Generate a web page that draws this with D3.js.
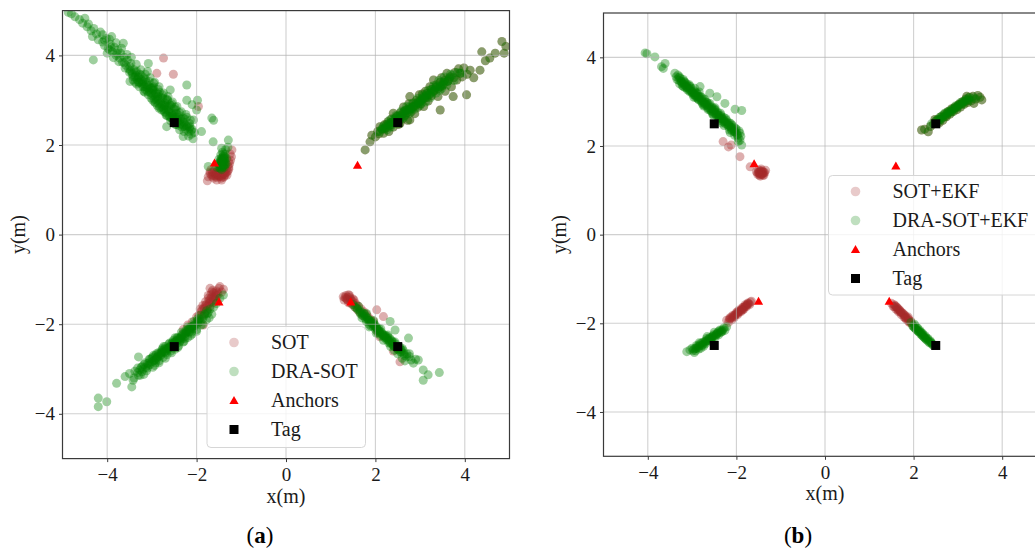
<!DOCTYPE html>
<html><head><meta charset="utf-8">
<script src="https://cdn.jsdelivr.net/npm/d3@7"></script>
<style>body{margin:0;background:#fff}svg{display:block}</style>
</head><body>
<svg id="c" width="1035" height="548"></svg>
<script>
// ---------- tick values ----------
const tickValues = [-4, -2, 0, 2, 4];

// ---------- fixed markers (same in both panels) ----------
const anchors = [[-1.6, 1.6], [1.6, 1.55], [-1.5, -1.5], [1.45, -1.5]];
const tags = [[-2.5, 2.5], [2.5, 2.5], [-2.5, -2.5], [2.5, -2.5]];

// ---------- panel (a) ----------
const aDraUL = [[-4.87,4.96],[-4.80,4.93],[-4.72,4.86],[-4.62,4.80],[-4.55,4.72],[-4.50,4.83],[-4.45,4.64],[-4.42,4.70],[-4.36,4.55],[-4.33,4.42],[-4.30,4.60],[-4.24,4.48],[-4.20,4.35],[-4.15,4.52],[-4.10,4.30],[-4.31,3.90],[-4.06,4.22],[-4.02,4.38],[-3.98,4.15],[-3.93,4.25],[-3.90,4.42],[-3.88,4.08],[-3.84,4.18],[-3.80,4.00],[-3.76,4.12],[-3.72,3.94],[-3.70,4.05],[-3.66,3.85],[-3.64,4.27],[-3.62,3.96],[-3.58,3.78],[-3.55,3.90],[-3.52,3.70],[-3.49,3.75],[-3.47,3.82],[-3.44,3.62],[-3.42,3.45],[-3.40,3.68],[-3.36,3.55],[-3.34,3.64],[-3.31,3.50],[-3.29,3.40],[-3.27,3.58],[-3.24,3.46],[-3.22,3.36],[-3.20,3.30],[-3.18,3.50],[-3.15,3.24],[-3.13,3.40],[-3.10,3.64],[-3.08,3.82],[-3.08,3.32],[-3.05,3.18],[-3.03,3.28],[-3.00,3.10],[-2.98,3.22],[-2.96,3.38],[-2.94,3.02],[-2.92,3.14],[-2.89,3.00],[-2.87,3.08],[-2.85,2.92],[-2.83,3.18],[-2.80,2.98],[-2.78,2.86],[-2.76,3.05],[-2.73,2.82],[-2.71,2.94],[-2.69,2.72],[-2.67,2.85],[-2.67,2.41],[-2.65,3.00],[-2.62,2.78],[-2.60,2.64],[-2.59,3.23],[-2.57,2.88],[-2.55,2.70],[-2.53,2.58],[-2.50,2.80],[-2.48,2.62],[-2.45,2.71],[-2.43,2.52],[-2.40,2.66],[-2.37,2.48],[-2.35,2.58],[-2.33,2.40],[-2.30,2.19],[-2.28,2.50],[-2.25,2.36],[-2.22,2.62],[-2.20,2.42],[-2.18,2.30],[-2.15,2.41],[-2.12,2.24],[-2.10,2.35],[-2.07,2.56],[-2.05,2.28],
[-2.22,3.34],[-2.22,3.00],[-2.00,2.78],[-1.98,3.00],[-2.10,2.90],[-1.89,2.30],[-1.66,2.60],[-1.62,2.55],[-1.63,2.07],[-1.29,2.11],[-1.44,1.93],[-1.74,1.52],[-3.94,4.12],[-3.49,3.42],[-2.97,3.23]];
const aDraULcore = [[-3.38,3.52],[-3.33,3.46],[-3.26,3.40],[-3.21,3.42],[-3.16,3.30],[-3.11,3.28],[-3.06,3.24],[-3.01,3.16],[-2.96,3.12],[-2.91,3.06],[-2.86,3.02],[-2.81,2.94],[-2.76,2.90],[-2.72,2.88],[-2.68,2.80],[-2.63,2.74],[-2.58,2.72],[-2.54,2.66],[-2.49,2.60],[-2.44,2.58],[-2.39,2.54],[-2.34,2.46],[-2.29,2.42],[-2.24,2.44],[-3.02,3.05],[-2.92,2.94],[-2.84,2.82],[-2.74,2.78],[-2.66,2.66],[-2.56,2.60],[-2.46,2.46],
[-4.10,4.46],[-4.00,4.05],[-3.95,4.36],[-3.86,3.95],[-3.80,4.28],[-3.74,3.86],[-3.68,4.16],[-3.60,3.72],[-3.56,4.02],[-3.50,3.62],[-3.46,3.96],[-3.38,3.40],[-3.35,3.80],[-3.28,3.30],[-3.25,3.68],[-3.18,3.20],[-3.15,3.58],[-3.08,3.12],[-3.04,3.50],[-2.98,3.00],[-2.94,3.40],[-2.88,2.88],[-2.84,3.30],[-2.78,2.78],[-2.74,3.16],[-2.68,2.66],[-2.64,3.08],[-2.58,2.54],[-2.54,2.96],[-2.48,2.46],[-2.44,2.86],[-2.38,2.34],[-2.34,2.74],[-2.28,2.30],[-2.24,2.68],[-2.18,2.20],[-2.14,2.56],[-2.08,2.14],[-3.44,3.58],[-3.30,3.52],[-3.12,3.34],[-2.98,3.28],[-2.86,3.14],[-2.70,3.02],[-2.60,2.90],[-2.46,2.78],[-2.30,2.60],[-2.16,2.38],[-3.62,3.84],[-3.78,4.04],[-3.92,4.18],[-4.06,4.34],
[-3.48,3.66],[-3.42,3.52],[-3.36,3.62],[-3.30,3.40],[-3.24,3.56],[-3.20,3.38],[-3.14,3.46],[-3.10,3.20],[-3.06,3.42],[-3.00,3.26],[-2.96,3.30],[-2.90,3.16],[-2.86,3.24],[-2.80,3.06],[-2.76,3.12],[-2.70,2.90],[-2.66,3.02],[-2.62,2.86],[-2.56,2.92],[-2.52,2.70],[-2.48,2.84],[-2.42,2.62],[-2.38,2.72],[-2.32,2.52],[-2.26,2.58],[-2.22,2.40],[-2.16,2.48],[-2.12,2.32],[-3.16,3.18],[-2.94,2.96],[-2.72,2.74],[-2.50,2.52],[-3.34,3.36],[-2.82,2.84],[-2.60,2.62],[-2.40,2.44]];
const aDraBlob = [[-1.50,1.50],[-1.46,1.55],[-1.42,1.60],[-1.38,1.66],[-1.45,1.70],[-1.40,1.75],[-1.36,1.80],[-1.48,1.62],[-1.52,1.58],[-1.44,1.45],[-1.38,1.50],[-1.34,1.58],[-1.42,1.84],[-1.46,1.78],[-1.33,1.70],[-1.50,1.68],[-1.41,1.52],[-1.47,1.48],[-1.36,1.62],[-1.44,1.66],[-1.40,1.70],[-1.48,1.56],[-1.43,1.58],[-1.39,1.56],[-1.45,1.62],[-1.35,1.90],[-1.30,1.95],[-1.55,1.50],[-1.42,1.64],[-1.37,1.74],[-1.44,1.54],[-1.40,1.62],[-1.46,1.66],[-1.38,1.70],[-1.42,1.72],[-1.48,1.52],[-1.36,1.56],[-1.43,1.50],[-1.40,1.80],[-1.46,1.60]];
const aSotUL = [[-1.70,1.36],[-1.66,1.30],[-1.62,1.26],[-1.58,1.34],[-1.55,1.28],[-1.52,1.36],[-1.48,1.30],[-1.45,1.26],[-1.42,1.34],[-1.38,1.30],[-1.35,1.38],[-1.32,1.33],[-1.30,1.42],[-1.28,1.50],[-1.26,1.58],[-1.24,1.66],[-1.22,1.74],[-1.25,1.80],[-1.64,1.40],[-1.60,1.44],[-1.56,1.40],[-1.68,1.45],[-1.50,1.42],[-1.46,1.38],[-1.40,1.40],[-1.34,1.46],[-1.30,1.55],[-1.28,1.63],[-1.74,1.29],[-1.76,1.20],[-1.55,1.22],[-1.44,1.22],[-1.62,1.32],[-1.53,1.32],[-1.40,1.28],[-1.21,1.89],
[-1.66,1.34],[-1.58,1.30],[-1.50,1.30],[-1.44,1.30],[-1.36,1.34],[-1.32,1.40],[-1.28,1.46],[-1.60,1.38],[-1.48,1.34],[-1.54,1.36],[-1.70,1.40],[-1.38,1.36],
[-2.74,3.94],[-2.89,3.60],[-2.52,3.58],[-1.96,2.86]];
const aBothUR = [[1.77,1.89],[1.88,2.07],[1.92,2.22],[2.00,2.18],[2.05,2.30],[2.10,2.41],[2.08,2.25],[2.15,2.35],[2.18,2.26],[2.20,2.45],[2.24,2.38],[2.28,2.52],[2.30,2.30],[2.33,2.44],[2.36,2.58],[2.40,2.71],[2.40,2.40],[2.44,2.50],[2.48,2.64],[2.52,2.46],[2.55,2.48],[2.56,2.72],[2.60,2.58],[2.63,2.85],[2.66,2.66],[2.70,2.78],[2.72,2.55],[2.75,2.92],[2.77,2.56],[2.77,3.08],[2.80,2.74],[2.84,2.86],[2.88,2.70],[2.92,3.00],[2.95,2.84],[2.98,3.12],[3.02,2.92],[3.05,3.05],[3.08,2.86],[3.12,3.20],[3.15,3.15],[3.18,2.98],[3.22,3.30],[3.25,3.10],[3.30,3.45],[3.32,3.22],[3.36,3.34],[3.40,3.08],[3.45,3.30],[3.45,2.78],[3.48,3.50],[3.52,3.36],[3.56,3.20],[3.60,3.60],[3.62,3.42],[3.67,3.52],[3.70,3.30],[3.74,3.08],[3.78,3.62],[3.82,3.45],[3.86,3.70],[3.89,3.60],[3.94,3.52],[3.98,3.72],[4.04,3.12],[4.05,3.58],[4.12,3.67],[4.20,3.50],[4.34,3.67],[4.38,4.08],[4.46,3.88],[4.56,3.94],[4.68,4.05],[4.83,4.31],[4.88,4.05],[4.92,4.20],
[2.20,2.36],[2.30,2.44],[2.40,2.52],[2.50,2.58],[2.60,2.68],[2.70,2.72],[2.80,2.82],[2.90,2.88],[3.00,2.98],[3.10,3.04],[3.20,3.12],[3.30,3.20],[3.40,3.26],[3.50,3.32],[2.25,2.46],[2.35,2.50],[2.45,2.60],[2.55,2.62],[2.65,2.76],[2.75,2.80],[2.85,2.94],[2.95,2.96],[3.05,3.14],[3.15,3.06],[3.25,3.24],[3.35,3.28],[3.45,3.40],[3.55,3.44],[3.65,3.48],[3.75,3.50]];
const aDraURcore = [[2.10,2.30],[2.18,2.42],[2.26,2.34],[2.32,2.56],[2.38,2.46],[2.46,2.66],[2.52,2.54],[2.58,2.76],[2.64,2.62],[2.70,2.86],[2.76,2.70],[2.82,2.92],[2.88,2.80],[2.94,3.04],[3.00,2.88],[3.06,3.10],[3.12,2.96],[3.18,3.22],[3.24,3.06],[3.30,3.32],[3.36,3.16],[3.42,3.44],[3.48,3.26],[3.54,3.52],[3.60,3.34],[3.68,3.58],[3.76,3.44],[3.84,3.62],[3.92,3.60],[2.36,2.50],[2.56,2.66],[2.76,2.84],[2.96,2.94],[3.16,3.14],[3.36,3.30],[3.56,3.40],[2.46,2.56],[2.66,2.72],[2.86,2.86],[3.06,3.02],[3.26,3.18],[3.46,3.34],
[2.14,2.36],[2.22,2.40],[2.30,2.48],[2.42,2.58],[2.50,2.64],[2.58,2.62],[2.68,2.78],[2.78,2.78],[2.90,2.92],[3.02,2.98],[3.14,3.10],[3.28,3.24],[3.40,3.30],[3.52,3.40],[3.64,3.44],[3.72,3.56],[2.34,2.40],[2.54,2.56],[2.74,2.74],[2.98,2.92],[3.22,3.14],[3.44,3.22],[2.62,2.72],[2.84,2.82],[3.08,3.06]];
const aDraLL = [[-4.20,-3.65],[-4.01,-3.73],[-4.20,-3.84],[-3.79,-3.32],[-3.60,-3.17],[-3.45,-3.40],[-3.42,-3.25],[-3.50,-3.10],[-3.38,-3.05],[-3.30,-2.73],[-3.27,-3.02],[-3.22,-2.95],[-3.18,-3.12],[-3.15,-2.86],[-3.10,-2.98],[-3.06,-2.78],[-3.04,-2.90],[-3.00,-2.84],[-2.97,-2.70],[-2.94,-2.92],[-2.90,-2.76],[-2.86,-2.64],[-2.84,-2.82],[-2.80,-2.70],[-2.78,-2.58],[-2.75,-2.74],[-2.72,-2.62],[-2.70,-2.50],[-2.66,-2.68],[-2.63,-2.54],[-2.60,-2.42],[-2.58,-2.60],[-2.55,-2.48],[-2.52,-2.36],[-2.48,-2.56],[-2.45,-2.44],[-2.42,-2.30],[-2.40,-2.48],[-2.36,-2.36],[-2.33,-2.24],[-2.30,-2.40],[-2.27,-2.28],[-2.24,-2.14],[-2.20,-2.30],[-2.17,-2.18],[-2.14,-2.06],[-2.10,-2.22],[-2.07,-2.10],[-2.04,-1.98],[-2.00,-2.12],[-1.97,-1.98],[-1.94,-1.88],[-1.90,-2.02],[-1.86,-1.88],[-1.82,-1.78],[-1.78,-1.90],[-1.74,-1.74],[-1.70,-1.66],[-1.66,-1.78],[-1.62,-1.62],[-1.56,-1.54],[-1.48,-1.42],[-1.40,-1.35]];
const aDraLLcore = [[-3.00,-2.76],[-2.92,-2.70],[-2.84,-2.66],[-2.76,-2.60],[-2.68,-2.54],[-2.60,-2.50],[-2.52,-2.42],[-2.44,-2.36],[-2.36,-2.30],[-2.28,-2.22],[-2.20,-2.14],[-2.12,-2.06],[-2.04,-2.02],[-1.96,-1.92],[-2.96,-2.82],[-2.88,-2.74],[-2.80,-2.64],[-2.72,-2.56],[-2.64,-2.58],[-2.56,-2.44],[-2.48,-2.40],[-2.40,-2.32],[-2.32,-2.32],[-2.24,-2.20],[-2.16,-2.12],[-2.08,-2.04],[-3.10,-2.88],[-3.20,-3.00],[-3.32,-3.08],
[-3.40,-3.20],[-3.32,-2.98],[-3.26,-3.14],[-3.18,-2.90],[-3.12,-3.04],[-3.04,-2.78],[-2.98,-2.96],[-2.90,-2.66],[-2.84,-2.86],[-2.76,-2.54],[-2.70,-2.76],[-2.62,-2.44],[-2.56,-2.64],[-2.48,-2.30],[-2.42,-2.52],[-2.34,-2.18],[-2.28,-2.38],[-2.20,-2.06],[-2.14,-2.26],[-2.06,-1.94],[-2.00,-2.16],[-1.92,-1.80],[-1.86,-2.00],[-1.78,-1.70],[-1.72,-1.86],[-3.08,-2.92],[-2.94,-2.80],[-2.80,-2.68],[-2.66,-2.56],[-2.52,-2.46],[-2.38,-2.34],[-2.24,-2.18],[-2.10,-2.08],[-1.98,-1.94],[-3.22,-3.06],[-2.60,-2.52],[-2.46,-2.38],
[-3.30,-3.14],[-3.24,-2.96],[-3.14,-2.96],[-3.06,-2.86],[-2.98,-2.74],[-2.92,-2.86],[-2.86,-2.72],[-2.78,-2.64],[-2.74,-2.50],[-2.68,-2.64],[-2.62,-2.52],[-2.54,-2.40],[-2.50,-2.52],[-2.44,-2.30],[-2.38,-2.40],[-2.30,-2.20],[-2.26,-2.32],[-2.18,-2.10],[-2.12,-2.18],[-2.06,-2.04],[-1.98,-1.88],[-1.92,-1.94],[-1.84,-1.82],[-1.76,-1.76],[-2.90,-2.80],[-2.70,-2.60],[-2.34,-2.28],[-2.16,-2.16]];
const aSotLL = [[-1.70,-1.20],[-1.48,-1.16],[-1.56,-1.26],[-1.62,-1.30],[-1.52,-1.34],[-1.66,-1.40],[-1.58,-1.44],[-1.72,-1.48],[-1.64,-1.52],[-1.78,-1.56],[-1.70,-1.60],[-1.84,-1.64],[-1.76,-1.68],[-1.90,-1.72],[-1.82,-1.76],[-1.60,-1.38],[-1.54,-1.48],[-1.68,-1.34],[-1.74,-1.42],[-1.80,-1.50],[-1.86,-1.58],[-1.92,-1.66],[-1.44,-1.28],[-1.40,-1.22],[-1.85,-2.02],[-2.00,-1.84],[-2.10,-1.95],[-2.20,-2.02],[-1.95,-1.80],[-2.30,-2.12],[-1.64,-1.24],[-1.50,-1.20],[-1.58,-1.32],[-1.72,-1.54],[-1.88,-1.82],[-1.62,-1.42],[-1.68,-1.50],[-1.76,-1.60],[-1.56,-1.36],[-1.82,-1.66],[-1.66,-1.28],[-1.54,-1.30],[-1.74,-1.36],[-1.62,-1.48],[-1.80,-1.58],[-1.88,-1.68],[-1.70,-1.44]];
const aDraLR = [[1.50,-1.56],[1.55,-1.62],[1.60,-1.66],[1.64,-1.72],[1.66,-1.76],[1.70,-1.80],[1.74,-1.82],[1.78,-1.88],[1.80,-1.94],[1.84,-1.92],[1.86,-2.00],[1.90,-2.04],[1.95,-2.06],[1.96,-1.98],[2.00,-2.12],[2.03,-2.08],[2.06,-2.20],[2.10,-2.16],[2.12,-2.26],[2.16,-2.22],[2.20,-2.30],[2.25,-2.35],[2.28,-2.28],[2.30,-2.42],[2.33,-1.94],[2.36,-2.38],[2.40,-2.48],[2.44,-2.13],[2.45,-2.44],[2.50,-2.56],[2.54,-2.50],[2.58,-2.62],[2.62,-2.58],[2.65,-2.70],[2.70,-2.73],[2.74,-2.31],[2.76,-2.66],[2.80,-2.80],[2.85,-2.87],[2.90,-2.78],[2.96,-2.80],[3.07,-3.02],[3.07,-3.25],[3.18,-3.13],[3.43,-3.08],[2.60,-2.76],[2.42,-2.58]];
const aDraLRcore = [[1.70,-1.74],[1.78,-1.82],[1.86,-1.92],[1.94,-2.00],[2.02,-2.08],[2.10,-2.20],[2.18,-2.26],[2.26,-2.32],[2.34,-2.42],[2.42,-2.50],[2.50,-2.52],[2.58,-2.58],[1.82,-1.86],[1.90,-1.96],[1.98,-2.04],[2.06,-2.14],[2.14,-2.18],[2.22,-2.28],[2.30,-2.36],[2.38,-2.44],
[1.62,-1.60],[1.70,-1.86],[1.80,-1.76],[1.86,-2.06],[1.96,-1.92],[2.02,-2.20],[2.12,-2.10],[2.18,-2.36],[2.28,-2.24],[2.34,-2.50],[2.44,-2.40],[2.50,-2.66],[2.60,-2.54],[2.66,-2.82],[2.76,-2.72],[1.76,-1.78],[1.92,-1.94],[2.08,-2.10],[2.24,-2.26],[2.40,-2.40],[2.56,-2.56],[2.70,-2.66],[2.00,-2.02],[2.32,-2.32],
[1.58,-1.64],[1.66,-1.70],[1.74,-1.76],[1.84,-1.88],[1.92,-1.98],[2.00,-2.06],[2.08,-2.16],[2.16,-2.24],[2.24,-2.30],[2.32,-2.40],[2.40,-2.46],[2.48,-2.54],[2.56,-2.62],[2.64,-2.66],[1.88,-1.92],[2.04,-2.10],[2.20,-2.24],[2.36,-2.36],[2.52,-2.58]];
const aSotLR = [[1.28,-1.39],[1.34,-1.36],[1.40,-1.34],[1.43,-1.40],[1.36,-1.44],[1.30,-1.46],[1.46,-1.48],[1.40,-1.52],[1.52,-1.46],[1.48,-1.56],[1.56,-1.54],[1.54,-1.62],[1.62,-1.60],[1.60,-1.68],[1.68,-1.66],[1.66,-1.74],[1.74,-1.72],[1.72,-1.80],[1.80,-1.78],[1.84,-1.84],[1.90,-1.90],[1.96,-1.94],[2.03,-1.68],[2.18,-1.83],[2.55,-2.84],[2.40,-2.60],[1.38,-1.40],[1.45,-1.44],[1.34,-1.42],[1.50,-1.50],[2.04,-2.16],[2.10,-2.28],[1.32,-1.40],[1.38,-1.46],[1.42,-1.36],[1.44,-1.52],[1.50,-1.44],[1.58,-1.58]];

// ---------- panel (b) ----------
const bDraUL = [[-4.06,4.10],[-4.02,4.08],[-3.84,4.01],[-3.69,3.79],[-3.61,3.86],[-3.65,3.75],[-3.39,3.64],[-3.36,3.56],[-3.32,3.60],[-3.30,3.48],[-3.26,3.52],[-3.22,3.42],[-3.20,3.34],[-3.16,3.44],[-3.12,3.30],[-3.08,3.36],[-3.05,3.22],[-3.02,3.30],[-2.98,3.16],[-2.95,3.24],[-2.92,3.10],[-2.88,3.18],[-2.85,3.04],[-2.82,3.12],[-2.82,3.34],[-2.78,2.98],[-2.75,3.06],[-2.72,2.92],[-2.68,3.00],[-2.65,2.86],[-2.62,2.94],[-2.60,3.19],[-2.58,2.80],[-2.55,2.88],[-2.52,2.74],[-2.48,2.82],[-2.45,2.68],[-2.44,3.11],[-2.42,2.76],[-2.38,2.62],[-2.35,2.70],[-2.32,2.56],[-2.28,2.64],[-2.26,2.96],[-2.25,2.50],[-2.22,2.58],[-2.18,2.44],[-2.15,2.52],[-2.12,2.38],[-2.08,2.46],[-2.05,2.32],[-2.03,2.83],[-2.02,2.40],[-1.98,2.26],[-1.96,2.18],[-1.94,2.34],[-1.92,2.13],[-1.88,2.80],[-1.90,2.22],[-1.88,2.02],[-1.92,2.29]];
const bDraULcore = [[-3.25,3.46],[-3.18,3.38],[-3.10,3.32],[-3.02,3.24],[-2.95,3.16],[-2.88,3.08],[-2.80,3.02],[-2.72,2.96],[-2.65,2.90],[-2.58,2.84],[-2.50,2.76],[-2.42,2.70],[-2.35,2.62],[-2.28,2.54],[-2.20,2.48],[-2.12,2.42],[-2.05,2.36],[-3.28,3.40],[-3.14,3.36],[-3.00,3.20],[-2.86,3.12],[-2.70,2.94],[-2.56,2.78],[-2.40,2.64],[-2.26,2.56],[-2.10,2.34],[-3.06,3.26],[-2.92,3.14],[-2.76,3.00],[-2.62,2.84],[-2.46,2.72],[-2.30,2.60],[-2.16,2.46],[-2.00,2.30],[-3.12,3.40],[-2.90,3.20],[-2.54,2.82],
[-3.34,3.50],[-3.28,3.56],[-3.22,3.36],[-3.18,3.46],[-3.10,3.26],[-3.06,3.38],[-2.98,3.20],[-2.94,3.30],[-2.86,3.06],[-2.84,3.22],[-2.76,2.94],[-2.72,3.06],[-2.64,2.82],[-2.60,2.96],[-2.52,2.70],[-2.48,2.86],[-2.40,2.58],[-2.36,2.74],[-2.28,2.46],[-2.24,2.62],[-2.16,2.36],[-2.12,2.50],[-2.04,2.24],[-2.00,2.38],[-1.96,2.10],[-3.20,3.50],[-3.04,3.34],[-2.90,3.12],[-2.78,3.10],[-2.66,2.98],[-2.50,2.84],[-2.34,2.66],[-2.18,2.52],[-2.06,2.42],
[-3.30,3.54],[-3.24,3.44],[-3.18,3.42],[-3.12,3.34],[-3.04,3.28],[-2.98,3.22],[-2.92,3.18],[-2.84,3.10],[-2.78,3.04],[-2.70,2.98],[-2.64,2.92],[-2.56,2.86],[-2.50,2.80],[-2.44,2.74],[-2.38,2.68],[-2.32,2.62],[-2.24,2.54],[-2.18,2.48],[-2.10,2.40],[-2.04,2.32],[-1.98,2.24],[-3.16,3.32],[-2.96,3.10],[-2.74,2.90],[-2.54,2.72],[-2.34,2.52],[-2.14,2.30]];
const bSotUL = [[-2.30,2.10],[-2.18,1.98],[-2.12,2.02],[-1.92,1.76],[-1.69,1.53],
[-1.55,1.42],[-1.52,1.36],[-1.50,1.46],[-1.48,1.38],[-1.46,1.32],[-1.45,1.44],[-1.42,1.36],[-1.40,1.42],[-1.38,1.34],[-1.36,1.40],[-1.34,1.45],[-1.48,1.42],[-1.44,1.40],[-1.40,1.38],[-1.50,1.40],[-1.46,1.36],[-1.42,1.44],[-1.38,1.40],[-1.44,1.48],[-1.52,1.40],[-1.46,1.42],[-1.42,1.40],[-1.40,1.34],[-1.48,1.34],[-1.44,1.36]];
const bBothUR = [[2.18,2.36],[2.25,2.38],[2.33,2.32],[2.38,2.44],[2.45,2.50],[2.50,2.56],[2.55,2.60],[2.58,2.52],[2.62,2.66],[2.66,2.58],[2.70,2.72],[2.74,2.66],[2.78,2.78],[2.82,2.72],[2.86,2.84],[2.90,2.78],[2.94,2.88],[2.98,2.82],[3.02,2.94],[3.06,2.88],[3.10,3.00],[3.14,2.94],[3.18,3.06],[3.22,2.98],[3.26,3.10],[3.30,3.02],[3.34,3.12],[3.40,3.06],[3.45,3.14],[3.50,3.10],[3.54,3.04],[3.20,3.12],[3.36,2.96],[2.60,2.60],[2.70,2.66],[2.80,2.76],[2.90,2.84],[3.00,2.90],[3.10,2.96],[3.20,3.02],[2.65,2.64],[2.75,2.70],[2.85,2.78],[2.95,2.86],[3.05,2.94],[3.15,3.00],[3.25,3.04],[2.55,2.54],[2.48,2.60]];
const bDraURcore = [[2.40,2.50],[2.52,2.58],[2.64,2.68],[2.76,2.76],[2.88,2.82],[3.00,2.92],[3.12,3.00],[3.24,3.08],[3.36,3.08],[2.58,2.64],[2.82,2.80],[3.06,2.98],[2.70,2.74],[2.94,2.90],[3.18,3.04],[2.62,2.60],[2.86,2.76],[3.10,2.94],[2.74,2.72],[2.98,2.86]];
const bDraLL = [[-3.12,-2.64],[-3.05,-2.60],[-2.98,-2.62],[-2.93,-2.57],[-2.90,-2.50],[-2.86,-2.54],[-2.82,-2.46],[-2.78,-2.50],[-2.74,-2.42],[-2.70,-2.46],[-2.67,-2.34],[-2.64,-2.40],[-2.60,-2.32],[-2.56,-2.36],[-2.52,-2.28],[-2.48,-2.32],[-2.44,-2.24],[-2.40,-2.26],[-2.37,-2.15],[-2.34,-2.20],[-2.30,-2.14],[-2.26,-2.16],[-2.22,-2.08],[-2.85,-2.58],[-2.76,-2.48],[-2.68,-2.40],[-2.58,-2.34],[-2.50,-2.30],[-2.42,-2.22],[-2.32,-2.18],[-2.88,-2.52],[-2.72,-2.44],[-2.62,-2.36],[-2.54,-2.30],[-2.46,-2.26],[-2.36,-2.20],[-3.00,-2.56],[-2.95,-2.66],[-2.80,-2.56],[-2.28,-2.10],[-2.84,-2.44],[-2.66,-2.30],[-2.50,-2.20],[-2.92,-2.62],[-2.74,-2.52],[-2.58,-2.40],
[-2.96,-2.58],[-2.82,-2.50],[-2.70,-2.40],[-2.56,-2.32],[-2.44,-2.22],[-2.34,-2.16],[-2.90,-2.56],[-2.78,-2.44],[-2.64,-2.36],[-2.52,-2.26],[-2.40,-2.18]];
const bSotLL = [[-2.22,-1.93],[-2.18,-1.98],[-2.15,-1.88],[-2.10,-1.92],[-2.08,-1.82],[-2.04,-1.86],[-2.00,-1.76],[-1.97,-1.80],[-1.94,-1.70],[-1.90,-1.74],[-1.86,-1.64],[-1.83,-1.68],[-1.80,-1.58],[-1.77,-1.62],[-1.74,-1.54],[-1.70,-1.58],[-1.66,-1.50],[-2.12,-1.86],[-2.02,-1.80],[-1.92,-1.72],[-1.84,-1.66],[-1.76,-1.58],[-2.06,-1.84],[-1.96,-1.76],[-1.88,-1.68],[-1.80,-1.62],[-1.72,-1.56],[-2.16,-1.92],[-1.98,-1.74],[-1.86,-1.70],
[-2.14,-1.90],[-2.04,-1.82],[-1.94,-1.74],[-1.84,-1.64],[-1.74,-1.56],[-2.08,-1.86],[-1.98,-1.78],[-1.88,-1.70],[-1.78,-1.60],[-1.68,-1.52]];
const bSotLR = [[1.50,-1.55],[1.54,-1.62],[1.58,-1.60],[1.60,-1.68],[1.64,-1.66],[1.66,-1.74],[1.70,-1.72],[1.72,-1.80],[1.76,-1.78],[1.78,-1.86],[1.82,-1.84],[1.84,-1.92],[1.88,-1.90],[1.90,-1.98],[1.94,-1.96],[1.98,-2.04],[1.56,-1.58],[1.62,-1.64],[1.68,-1.70],[1.74,-1.76],[1.80,-1.82],[1.86,-1.88],[1.92,-1.94],[1.66,-1.68],[1.78,-1.80],[1.88,-1.86],
[1.56,-1.62],[1.64,-1.70],[1.72,-1.76],[1.80,-1.86],[1.88,-1.94],[1.60,-1.62],[1.70,-1.74],[1.82,-1.88],[1.92,-1.98]];
const bDraLR = [[1.94,-1.98],[1.98,-2.06],[2.02,-2.02],[2.04,-2.12],[2.08,-2.10],[2.10,-2.18],[2.14,-2.16],[2.16,-2.24],[2.20,-2.22],[2.22,-2.30],[2.26,-2.28],[2.28,-2.36],[2.32,-2.34],[2.34,-2.42],[2.38,-2.40],[2.42,-2.46],[2.45,-2.50],[2.00,-2.08],[2.06,-2.14],[2.12,-2.20],[2.18,-2.26],[2.24,-2.32],[2.30,-2.38],[2.36,-2.44],[2.04,-2.06],[2.16,-2.20],[2.26,-2.34],[2.40,-2.44],[2.10,-2.12],[2.20,-2.28],
[2.02,-2.10],[2.12,-2.18],[2.22,-2.26],[2.32,-2.36],[2.42,-2.48],[2.08,-2.16],[2.18,-2.22],[2.28,-2.32],[2.38,-2.42]];

const legendA = ["SOT", "DRA-SOT", "Anchors", "Tag"];
const legendB = ["SOT+EKF", "DRA-SOT+EKF", "Anchors", "Tag"];

// ---------- styles ----------
const SOT_COLOR = "#a52a2a", DRA_COLOR = "#008000", ALPHA = 0.38, R = 4.5;
const FONT = "'Liberation Serif','Times New Roman',serif";
const TRI = "M0,-4.5L4.6,3.6L-4.6,3.6Z";

const svg = d3.select("#c");

function panel(cfg) {
  const {id, xr, yr, sot, dra, leg, box, cap} = cfg;
  const x = d3.scaleLinear().domain([-5, 5]).range(xr);
  const y = d3.scaleLinear().domain([-5, 5]).range([yr[1], yr[0]]);
  const g = svg.append("g");
  svg.append("clipPath").attr("id", "clip" + id).append("rect")
    .attr("x", xr[0]).attr("y", yr[0]).attr("width", xr[1] - xr[0]).attr("height", yr[1] - yr[0]);
  const plot = g.append("g").attr("clip-path", `url(#clip${id})`);
  plot.append("g").selectAll("circle").data(sot).join("circle")
    .attr("cx", d => x(d[0])).attr("cy", d => y(d[1])).attr("r", R)
    .attr("fill", SOT_COLOR).attr("fill-opacity", ALPHA);
  plot.append("g").selectAll("circle").data(dra).join("circle")
    .attr("cx", d => x(d[0])).attr("cy", d => y(d[1])).attr("r", R)
    .attr("fill", DRA_COLOR).attr("fill-opacity", ALPHA);
  // grid
  const grid = plot.append("g").attr("stroke", "#b0b0b0").attr("stroke-opacity", 0.6).attr("stroke-width", 1.1);
  grid.selectAll(".gx").data(tickValues).join("line")
    .attr("x1", d => x(d)).attr("x2", d => x(d)).attr("y1", yr[0]).attr("y2", yr[1]);
  grid.selectAll(".gy").data(tickValues).join("line")
    .attr("y1", d => y(d)).attr("y2", d => y(d)).attr("x1", xr[0]).attr("x2", xr[1]);
  // anchors & tags
  plot.append("g").selectAll("path").data(anchors).join("path")
    .attr("d", TRI)
    .attr("transform", d => `translate(${x(d[0])},${y(d[1])})`).attr("fill", "#ff0000");
  plot.append("g").selectAll("rect").data(tags).join("rect")
    .attr("x", d => x(d[0]) - 4.5).attr("y", d => y(d[1]) - 4.5)
    .attr("width", 9).attr("height", 9).attr("fill", "#000");
  // spines
  g.append("rect").attr("x", xr[0]).attr("y", yr[0]).attr("width", xr[1] - xr[0]).attr("height", yr[1] - yr[0])
    .attr("fill", "none").attr("stroke", "#3a3a3a").attr("stroke-width", 1.2);
  // axes
  const ax = g.append("g").attr("transform", `translate(0,${yr[1]})`)
    .call(d3.axisBottom(x).tickValues(tickValues).tickSize(3.5).tickPadding(5.5));
  const ay = g.append("g").attr("transform", `translate(${xr[0]},0)`)
    .call(d3.axisLeft(y).tickValues(tickValues).tickSize(3.5).tickPadding(4));
  [ax, ay].forEach(a => {
    a.select(".domain").remove();
    a.selectAll("line").attr("stroke", "#3a3a3a").attr("stroke-width", 1);
    a.selectAll("text").attr("font-family", FONT).attr("font-size", 19).attr("fill", "#1a1a1a");
  });
  const cx = (xr[0] + xr[1]) / 2, cy = (yr[0] + yr[1]) / 2;
  g.append("text").attr("x", cx).attr("y", yr[1] + 44).attr("text-anchor", "middle")
    .attr("font-family", FONT).attr("font-size", 20).attr("fill", "#1a1a1a").text("x(m)");
  g.append("text").attr("transform", `translate(${xr[0] - 38},${cy}) rotate(-90)`).attr("text-anchor", "middle")
    .attr("font-family", FONT).attr("font-size", 20).attr("fill", "#1a1a1a").text("y(m)");
  // caption
  const c = g.append("text").attr("x", cap[0]).attr("y", cap[1]).attr("text-anchor", "middle")
    .attr("font-family", FONT).attr("font-size", 23).attr("fill", "#000");
  c.append("tspan").text("(");
  c.append("tspan").attr("font-weight", "bold").text(cap[2]);
  c.append("tspan").text(")");
  // legend
  const lg = g.append("g");
  lg.append("rect").attr("x", box[0]).attr("y", box[1]).attr("width", box[2]).attr("height", box[3])
    .attr("rx", 4).attr("fill", "#fff").attr("fill-opacity", 0.8).attr("stroke", "#d6d6d6").attr("stroke-width", 1);
  const mx = box[0] + 27, tx = box[0] + 64, y0 = box[1] + 16, dy = 29;
  leg.forEach((t, i) => {
    const yy = y0 + i * dy;
    if (i < 2) {
      lg.append("circle").attr("cx", mx).attr("cy", yy).attr("r", 4.8)
        .attr("fill", i === 0 ? SOT_COLOR : DRA_COLOR).attr("fill-opacity", 0.25);
    } else if (i === 2) {
      lg.append("path").attr("d", TRI).attr("transform", `translate(${mx},${yy})`).attr("fill", "#ff0000");
    } else {
      lg.append("rect").attr("x", mx - 4.5).attr("y", yy - 4.5).attr("width", 9).attr("height", 9).attr("fill", "#000");
    }
    lg.append("text").attr("x", tx).attr("y", yy + 6.8).attr("font-family", FONT).attr("font-size", 20)
      .attr("fill", "#1a1a1a").text(t);
  });
}

panel({id: "a", xr: [62.5, 509.5], yr: [10.6, 458.6],
  sot: [...aSotUL, ...aBothUR, ...aSotLL, ...aSotLR],
  dra: [...aDraUL, ...aDraULcore, ...aDraBlob, ...aBothUR, ...aDraURcore, ...aDraLL, ...aDraLLcore, ...aDraLR, ...aDraLRcore],
  leg: legendA, box: [207, 326.5, 158.5, 121], cap: [260, 543, "a"]});
panel({id: "b", xr: [603.5, 1046.5], yr: [13, 456.3],
  sot: [...bSotUL, ...bBothUR, ...bSotLL, ...bSotLR],
  dra: [...bDraUL, ...bDraULcore, ...bBothUR, ...bDraURcore, ...bDraLL, ...bDraLR],
  leg: legendB, box: [828.5, 175.5, 230, 119.5], cap: [798, 543, "b"]});
</script>
</body></html>
